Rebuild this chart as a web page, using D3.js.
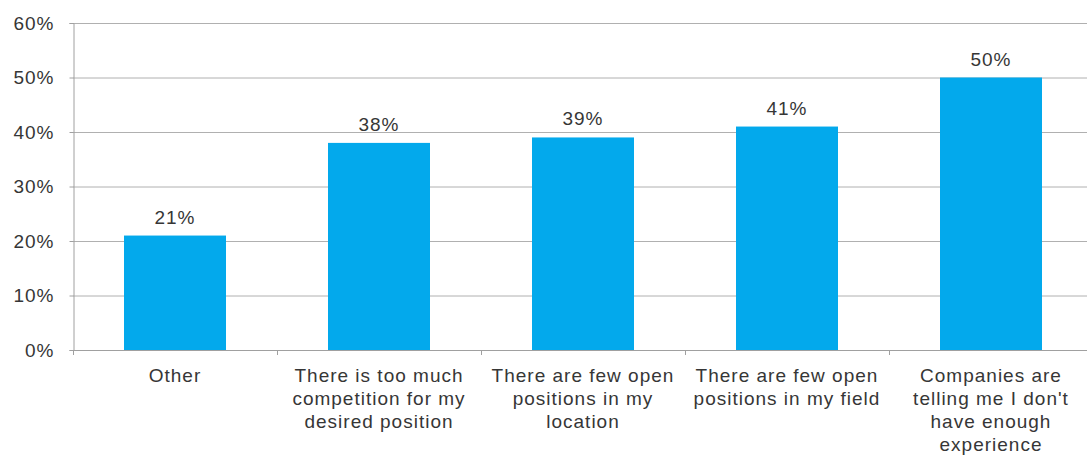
<!DOCTYPE html>
<html>
<head>
<meta charset="utf-8">
<script src="https://cdn.jsdelivr.net/npm/d3@7"></script>
<style>
  html, body { margin: 0; padding: 0; background: #fff; }
  svg { display: block; }
  text { font-family: "Liberation Sans", Arial, sans-serif; fill: #363636; letter-spacing: 1px; }
</style>
</head>
<body>
<div id="chart"></div>
<script>
// Reasons given for difficulty finding a job
const categories = [
  ["Other"],
  ["There is too much", "competition for my", "desired position"],
  ["There are few open", "positions in my", "location"],
  ["There are few open", "positions in my field"],
  ["Companies are", "telling me I don't", "have enough", "experience"]
];
const values = [21, 38, 39, 41, 50];
const yTicks = [0, 10, 20, 30, 40, 50, 60];

const width = 1087, height = 457;
const plotLeft = 73, plotTop = 23, plotBottom = 350, bandW = 204;
const plotRight = plotLeft + bandW * categories.length;

const svg = d3.select("#chart").append("svg")
  .attr("width", width).attr("height", height);

const x = d3.scaleBand()
  .domain(d3.range(categories.length))
  .range([plotLeft, plotRight])
  .paddingInner(0.5).paddingOuter(0.25);

const y = d3.scaleLinear().domain([0, 60]).range([plotBottom, plotTop]);

// horizontal gridlines
svg.append("g").selectAll("line").data(yTicks.filter(d => d > 0)).join("line")
  .attr("x1", plotLeft).attr("x2", plotRight)
  .attr("y1", d => y(d) + 0.5).attr("y2", d => y(d) + 0.5)
  .attr("stroke", "#b0b0b0").attr("stroke-width", 1);

// y axis
const yAxis = svg.append("g").attr("transform", `translate(${plotLeft + 0.5},0)`)
  .call(d3.axisLeft(y).tickValues(yTicks).tickFormat(d => d + "%").tickSize(4).tickPadding(15));
yAxis.select(".domain").attr("stroke", "#a0a0a0");
yAxis.selectAll(".tick line").attr("stroke", "#a0a0a0");
yAxis.selectAll("text").attr("font-size", 19).attr("fill", "#363636")
  .style("font-family", "'Liberation Sans', Arial, sans-serif");

// bars
svg.append("g").selectAll("rect").data(values).join("rect")
  .attr("x", (d, i) => x(i))
  .attr("y", d => y(d))
  .attr("width", x.bandwidth())
  .attr("height", d => plotBottom - y(d))
  .attr("fill", "#03a9ec");

// x axis baseline and category boundary ticks
svg.append("line")
  .attr("x1", plotLeft).attr("x2", plotRight)
  .attr("y1", plotBottom + 0.5).attr("y2", plotBottom + 0.5)
  .attr("stroke", "#a0a0a0");
svg.append("g").selectAll("line").data(d3.range(categories.length + 1)).join("line")
  .attr("x1", i => plotLeft + i * bandW + 0.5).attr("x2", i => plotLeft + i * bandW + 0.5)
  .attr("y1", plotBottom).attr("y2", plotBottom + 5)
  .attr("stroke", "#a0a0a0");

// value labels
svg.append("g").selectAll("text").data(values).join("text")
  .attr("x", (d, i) => x(i) + x.bandwidth() / 2)
  .attr("y", d => y(d) - 12)
  .attr("text-anchor", "middle")
  .attr("font-size", 19)
  .text(d => d + "%");

// category labels
const catG = svg.append("g").selectAll("text").data(categories).join("text")
  .attr("x", (d, i) => x(i) + x.bandwidth() / 2)
  .attr("y", 382)
  .attr("text-anchor", "middle")
  .attr("font-size", 19);
catG.selectAll("tspan").data(d => d).join("tspan")
  .attr("x", function () { return this.parentNode.getAttribute("x"); })
  .attr("dy", (d, i) => i === 0 ? 0 : 23)
  .text(d => d);
</script>
</body>
</html>
